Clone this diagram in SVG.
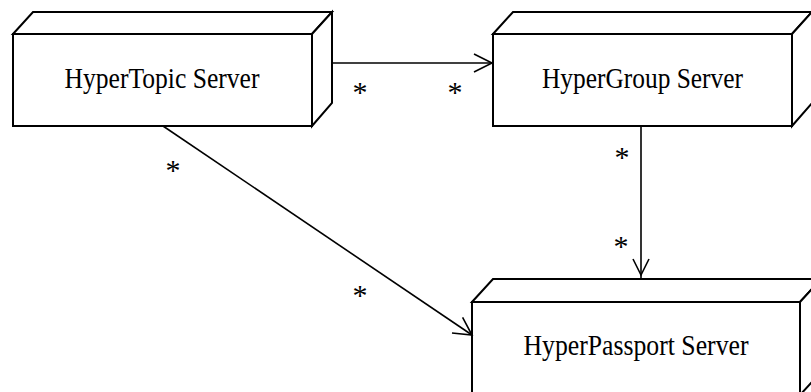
<svg xmlns="http://www.w3.org/2000/svg" width="811" height="392" viewBox="0 0 811 392">
  <style>
    .box { fill: #fff; stroke: #000; stroke-width: 2; stroke-linejoin: miter; }
    .edge { fill: none; stroke: #000; stroke-width: 1.6; }
    .head { fill: none; stroke: #000; stroke-width: 1.6; }
    .label { font-family: 'Liberation Serif', 'DejaVu Serif', serif; font-size: 30px; fill: #000; text-anchor: middle; }
    .mult { font-family: 'Liberation Serif', 'DejaVu Serif', serif; font-size: 30px; fill: #000; text-anchor: middle; }
  </style>
  <rect width="811" height="392" fill="#fff"/>

  <!-- nodes: 3D boxes (front face + top and side faces) -->
  <g id="hypertopic">
    <path class="box" d="M13,34 L33,12 L332,12 L312,34 Z"/>
    <path class="box" d="M312,34 L332,12 L332,103 L312,126 Z"/>
    <rect class="box" x="13" y="34" width="299" height="92"/>
    <text class="label" x="162" y="88" textLength="195" lengthAdjust="spacingAndGlyphs">HyperTopic Server</text>
  </g>

  <g id="hypergroup">
    <path class="box" d="M493,34 L513,12 L812,12 L792,34 Z"/>
    <path class="box" d="M792,34 L812,12 L812,103 L792,126 Z"/>
    <rect class="box" x="493" y="34" width="299" height="92"/>
    <text class="label" x="642.5" y="88" textLength="201" lengthAdjust="spacingAndGlyphs">HyperGroup Server</text>
  </g>

  <g id="hyperpassport">
    <path class="box" d="M472,302 L493,279 L821,279 L800,302 Z"/>
    <path class="box" d="M800,302 L821,279 L821,372 L800,395 Z"/>
    <rect class="box" x="472" y="302" width="328" height="93"/>
    <text class="label" x="636" y="355" textLength="225" lengthAdjust="spacingAndGlyphs">HyperPassport Server</text>
  </g>

  <!-- connectors with open arrowheads and multiplicities -->
  <g id="connectors">
    <line class="edge" x1="332" y1="63" x2="492" y2="63"/>
    <polyline class="head" points="474,54 492,63 474,72"/>

    <line class="edge" x1="641" y1="126" x2="641" y2="279"/>
    <polyline class="head" points="633,259 641,275 649,259"/>

    <line class="edge" x1="163" y1="126" x2="472" y2="335"/>
    <polyline class="head" points="462.6,317.4 472,335 452,333"/>

    <text class="mult" x="360" y="102">*</text>
    <text class="mult" x="455" y="102">*</text>
    <text class="mult" x="173" y="180">*</text>
    <text class="mult" x="622" y="167">*</text>
    <text class="mult" x="621" y="256">*</text>
    <text class="mult" x="360" y="305">*</text>
  </g>
</svg>
